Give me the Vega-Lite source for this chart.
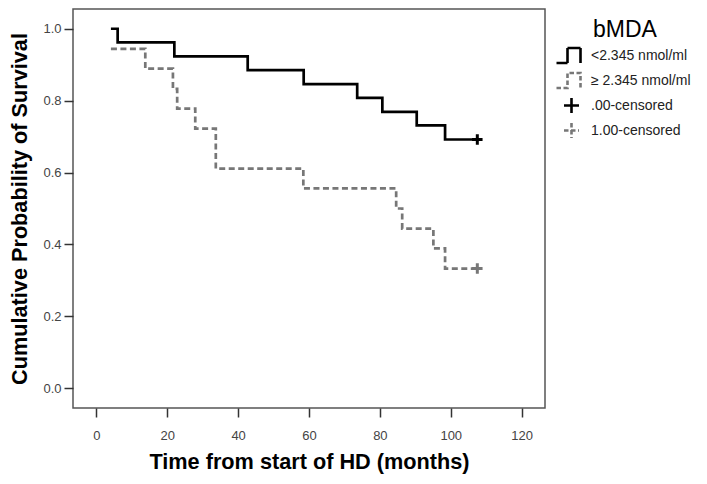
{
  "$schema": "https://vega.github.io/schema/vega-lite/v6.json",
  "width": 472,
  "height": 399,
  "autosize": {"type": "none"},
  "padding": {"left": 73, "top": 9, "right": 162, "bottom": 76},
  "background": "white",
  "config": {
    "font": "Liberation Sans",
    "view": {"stroke": "#555555", "strokeWidth": 1.5},
    "axis": {"grid": false, "domain": false, "tickColor": "#333333", "tickWidth": 1.5, "tickSize": 9, "labelFont": "Liberation Sans", "labelFontSize": 13, "labelColor": "#444444", "titleFont": "Liberation Sans", "titleFontSize": 21.7, "titleFontWeight": "bold", "titleColor": "#000000"}
  },
  "data": {
    "values": [
      {"group": "<2.345 nmol/ml", "kind": "curve", "time": 4.1, "surv": 1.0},
      {"group": "<2.345 nmol/ml", "kind": "curve", "time": 6.0, "surv": 0.962},
      {"group": "<2.345 nmol/ml", "kind": "curve", "time": 22.0, "surv": 0.923},
      {"group": "<2.345 nmol/ml", "kind": "curve", "time": 42.7, "surv": 0.885},
      {"group": "<2.345 nmol/ml", "kind": "curve", "time": 58.5, "surv": 0.846},
      {"group": "<2.345 nmol/ml", "kind": "curve", "time": 73.6, "surv": 0.808},
      {"group": "<2.345 nmol/ml", "kind": "curve", "time": 80.7, "surv": 0.769},
      {"group": "<2.345 nmol/ml", "kind": "curve", "time": 90.4, "surv": 0.731},
      {"group": "<2.345 nmol/ml", "kind": "curve", "time": 98.4, "surv": 0.692},
      {"group": "<2.345 nmol/ml", "kind": "curve", "time": 107.5, "surv": 0.692},
      {"group": "≥ 2.345 nmol/ml", "kind": "curve", "time": 4.1, "surv": 0.944},
      {"group": "≥ 2.345 nmol/ml", "kind": "curve", "time": 13.8, "surv": 0.889},
      {"group": "≥ 2.345 nmol/ml", "kind": "curve", "time": 21.6, "surv": 0.833},
      {"group": "≥ 2.345 nmol/ml", "kind": "curve", "time": 22.8, "surv": 0.778},
      {"group": "≥ 2.345 nmol/ml", "kind": "curve", "time": 27.9, "surv": 0.722},
      {"group": "≥ 2.345 nmol/ml", "kind": "curve", "time": 33.7, "surv": 0.611},
      {"group": "≥ 2.345 nmol/ml", "kind": "curve", "time": 58.4, "surv": 0.556},
      {"group": "≥ 2.345 nmol/ml", "kind": "curve", "time": 84.6, "surv": 0.5},
      {"group": "≥ 2.345 nmol/ml", "kind": "curve", "time": 86.3, "surv": 0.444},
      {"group": "≥ 2.345 nmol/ml", "kind": "curve", "time": 95.1, "surv": 0.389},
      {"group": "≥ 2.345 nmol/ml", "kind": "curve", "time": 98.4, "surv": 0.333},
      {"group": "≥ 2.345 nmol/ml", "kind": "curve", "time": 107.5, "surv": 0.333},
      {"group": ".00-censored", "kind": "censor", "time": 107.5, "surv": 0.692},
      {"group": "1.00-censored", "kind": "censor", "time": 107.5, "surv": 0.333}
    ]
  },
  "encoding": {
    "x": {"field": "time", "type": "quantitative", "title": "Time from start of HD (months)",
      "scale": {"domain": [-6.6, 126.6], "nice": false, "zero": false},
      "axis": {"values": [0, 20, 40, 60, 80, 100, 120], "labelPadding": 12, "titlePadding": 9}},
    "y": {"field": "surv", "type": "quantitative", "title": "Cumulative Probability of Survival",
      "scale": {"domain": [-0.055, 1.055], "nice": false, "zero": false},
      "axis": {"values": [0, 0.2, 0.4, 0.6, 0.8, 1.0], "format": ".1f", "labelPadding": 3, "titlePadding": 11}},
    "color": {"field": "group", "type": "nominal",
      "scale": {"domain": ["<2.345 nmol/ml", "≥ 2.345 nmol/ml", ".00-censored", "1.00-censored"], "range": ["#000000", "#777777", "#000000", "#777777"]},
      "legend": {
        "title": "bMDA", "orient": "none", "legendX": 487, "legendY": 10,
        "titleFont": "Liberation Sans", "titleFontSize": 23, "titleFontWeight": "normal", "titleColor": "#000000", "titleAnchor": "middle", "titlePadding": 2,
        "labelFont": "Liberation Sans", "labelFontSize": 14, "labelColor": "#222222",
        "symbolSize": 400, "symbolStrokeWidth": 2.6, "rowPadding": -7, "labelOffset": 8,
        "encode": {"symbols": {"update": {
          "shape": {"signal": "indexof(datum.value, 'censored') >= 0 ? 'M-0.75,0H0.75M0,-0.75V0.75' : 'M-1.5,0.75H-0.4V-0.75H0.9V0.75'"},
          "strokeDash": {"signal": "(datum.value === '≥ 2.345 nmol/ml' || datum.value === '1.00-censored') ? [4.5, 2.5] : [1, 0]"},
          "fill": {"value": "transparent"}
        }}}
      }}
  },
  "layer": [
    {
      "transform": [{"filter": "datum.kind === 'curve'"}],
      "mark": {"type": "line", "interpolate": "step-after", "strokeWidth": 2.7},
      "encoding": {
        "strokeDash": {"field": "group", "type": "nominal",
          "scale": {"domain": ["<2.345 nmol/ml", "≥ 2.345 nmol/ml"], "range": [[1, 0], [6, 3.5]]},
          "legend": null}
      }
    },
    {
      "transform": [{"filter": "datum.kind === 'censor'"}],
      "mark": {"type": "point", "shape": "M-1,0H1M0,-1V1", "size": 110, "strokeWidth": 3, "filled": false, "opacity": 1}
    }
  ]
}
